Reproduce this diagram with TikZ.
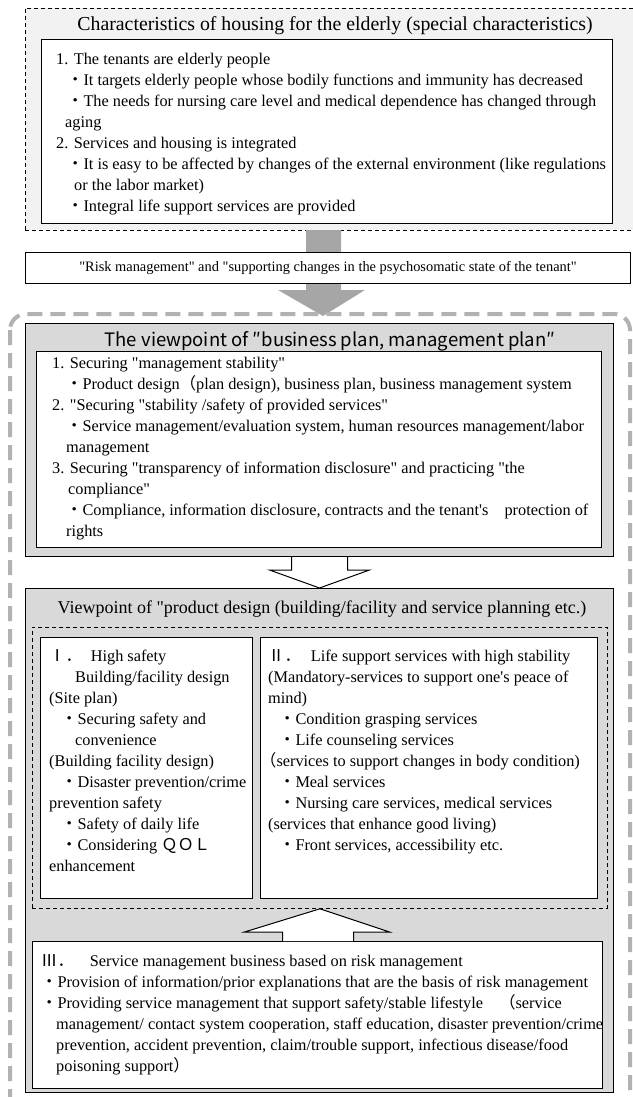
\documentclass[tikz,border=0pt]{standalone}
\usepackage{fontspec}
\setmainfont{Liberation Serif}[Ligatures=TeXOff]
\newfontfamily\cjk{Noto Sans CJK JP}
\usetikzlibrary{calc,positioning}
\newcommand{\bu}{{\cjk ・}}
\tikzset{%
    charframe/.style={%
        draw, dash pattern=on 4pt off 3pt, line width=0.8pt, fill=black!5, anchor=north west, inner sep=0pt
    },
    textbox/.style={%
        draw, line width=1pt, fill=white, anchor=north west, inner sep=0pt
    },
    graybox/.style={%
        draw, line width=1pt, fill=black!15, anchor=north west, inner sep=0pt
    },
    groupbox/.style={%
        draw, dash pattern=on 4pt off 3pt, line width=0.8pt, anchor=north west, inner sep=0pt
    },
    outerframe/.style={%
        draw=black!30, line width=4pt, dash pattern=on 15pt off 8pt, rounded corners=16pt
    },
    grayarrow/.style={%
        fill=black!35
    },
    hollowarrow/.style={%
        draw, line width=1pt, fill=white
    },
    bodytext/.style={%
        anchor=north west, align=left, inner sep=0pt, font=\fontsize{16.3}{21}\selectfont
    },
    titletext/.style={%
        inner sep=0pt, font=\fontsize{19.8}{24}\selectfont
    },
}

\begin{document}
\begin{tikzpicture}[x=1pt,y=-1pt]
    \useasboundingbox (0,0) rectangle (632,1097);

    % characteristics
    \node[charframe, minimum width=620, minimum height=222] (charframe) at (25,8) {};
    \node[titletext] (chartitle) at (335,26) {Characteristics of housing for the elderly (special characteristics)};
    \node[textbox, minimum width=571, minimum height=184] (charbox) at (41,39) {};
    \node[bodytext] (chartext) at (56,53) {1. The tenants are elderly people\\
      \hspace*{11pt}\bu It targets elderly people whose bodily functions and immunity has decreased\\
      \hspace*{11pt}\bu The needs for nursing care level and medical dependence has changed through\\
      \hspace*{9pt}aging\\
      2. Services and housing is integrated\\
      \hspace*{11pt}\bu It is easy to be affected by changes of the external environment (like regulations\\
      \hspace*{18pt}or the labor market)\\
      \hspace*{11pt}\bu Integral life support services are provided};

    \fill[grayarrow] (306,230) -- (341,230) -- (341,290) -- (365,290) -- (323,316) -- (278,290) -- (306,290) -- cycle;

    \node[textbox, minimum width=605, minimum height=31, anchor=north west, font=\fontsize{14.4}{17}\selectfont] (tenantbar) at (25,252) {"Risk management" and "supporting changes in the psychosomatic state of the tenant"};

    \draw[outerframe] (10,314) rectangle (630,1120);

    % business plan
    \node[graybox, minimum width=588, minimum height=233] (planframe) at (25,323) {};
    \node[inner sep=0pt, font=\cjk\fontsize{18.5}{22}\selectfont] (plantitle) at (330,341) {The viewpoint of ″business plan, management plan″};
    \node[textbox, minimum width=565, minimum height=196] (planbox) at (36,351) {};
    \node[bodytext] (plantext) at (52,357) {1. Securing "management stability"\\
      \hspace*{14pt}\bu Product design{\cjk （}plan design), business plan, business management system\\
      2. "Securing "stability /safety of provided services"\\
      \hspace*{14pt}\bu Service management/evaluation system, human resources management/labor\\
      \hspace*{14pt}management\\
      3. Securing "transparency of information disclosure" and practicing "the\\
      \hspace*{16pt}compliance"\\
      \hspace*{14pt}\bu Compliance, information disclosure, contracts and the tenant's{\cjk 　}protection of\\
      \hspace*{14pt}rights};

    % product design
    \node[graybox, minimum width=588, minimum height=504] (designframe) at (25,588) {};
    \draw[hollowarrow] ($(planframe.south)+(-28,0)$) -- ($(planframe.south)+(-28,13)$) -- ($(planframe.south)+(-50,13)$) -- (planframe.south |- designframe.north) -- ($(planframe.south)+(50,13)$) -- ($(planframe.south)+(28,13)$) -- ($(planframe.south)+(28,0)$);
    \node[titletext, font=\fontsize{18}{22}\selectfont] (designtitle) at (322,609) {Viewpoint of "product design (building/facility and service planning etc.)};
    \node[groupbox, minimum width=575, minimum height=281] (designgroup) at (32,627) {};
    \node[textbox, minimum width=212, minimum height=261] (safetybox) at (40,637) {};
    \node[textbox, minimum width=337, minimum height=261] (lifebox) at (260,637) {};
    \node[bodytext] (safetytext) at (49,649) {{\cjk Ⅰ．}\hspace{9pt}High safety\\
      \hspace*{26pt}Building/facility design\\
      (Site plan)\\
      \hspace*{12pt}\bu Securing safety and\\
      \hspace*{26pt}convenience\\
      (Building facility design)\\
      \hspace*{12pt}\bu Disaster prevention/crime\\
      prevention safety\\
      \hspace*{12pt}\bu Safety of daily life\\
      \hspace*{12pt}\bu Considering {\cjk ＱＯＬ}\\
      enhancement};
    \node[bodytext] (lifetext) at (268,649) {{\cjk Ⅱ．}\hspace{10pt}Life support services with high stability\\
      (Mandatory-services to support one's peace of\\
      mind)\\
      \hspace*{11pt}\bu Condition grasping services\\
      \hspace*{11pt}\bu Life counseling services\\
      \hspace*{-8pt}{\cjk （}services to support changes in body condition)\\
      \hspace*{11pt}\bu Meal services\\
      \hspace*{11pt}\bu Nursing care services, medical services\\
      (services that enhance good living)\\
      \hspace*{11pt}\bu Front services, accessibility etc.};

    % risk management
    \node[textbox, minimum width=570, minimum height=147] (servicebox) at (32,941) {};
    \draw[hollowarrow] ($(servicebox.north)+(-35,0)$) -- ($(servicebox.north)+(-35,-9)$) -- ($(servicebox.north)+(-73,-9)$) -- (designgroup.south) -- ($(servicebox.north)+(72,-9)$) -- ($(servicebox.north)+(36,-9)$) -- ($(servicebox.north)+(36,0)$);
    \node[bodytext] (servicetext) at (41,954) {{\cjk Ⅲ．}\hspace{16pt}Service management business based on risk management\\
      \bu Provision of information/prior explanations that are the basis of risk management\\
      \bu Providing service management that support safety/stable lifestyle{\cjk 　（}service\\
      \hspace*{15pt}management/ contact system cooperation, staff education, disaster prevention/crime\\
      \hspace*{15pt}prevention, accident prevention, claim/trouble support, infectious disease/food\\
      \hspace*{15pt}poisoning support{\cjk ）}};

\end{tikzpicture}
\end{document}
